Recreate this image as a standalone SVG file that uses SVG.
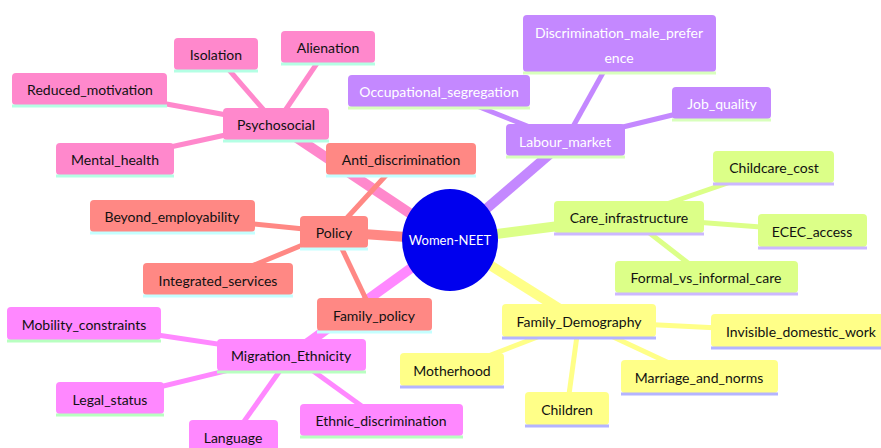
<svg xmlns="http://www.w3.org/2000/svg" width="881" height="448" viewBox="0 0 881 448">
  <style>
    text { font-family: Lato, "Liberation Sans", sans-serif; font-size: 14px; text-anchor: middle; dominant-baseline: central; fill: #111; }
    .lbl-w { fill: #ffffff; }
    .root-lbl { font-size: 13px; }
    .box { stroke: none; }
    .uline { stroke-width: 3; fill: none; }
    .e0 { stroke-width: 10; stroke-linecap: butt; fill: none; }
    .e1 { stroke-width: 5; stroke-linecap: butt; fill: none; }
    .s-psy .box { fill: #ff88cc; } .s-psy .uline { stroke: #b4ffe4; }
    .s-pol .box { fill: #ff8884; } .s-pol .uline { stroke: #c4ffff; }
    .s-lab .box { fill: #c488ff; } .s-lab .uline { stroke: #d8ffbc; }
    .s-care .box { fill: #dcff88; } .s-care .uline { stroke: #ccb8ff; }
    .s-fam .box { fill: #ffff88; } .s-fam .uline { stroke: #b4b4ff; }
    .s-mig .box { fill: #ff88ff; } .s-mig .uline { stroke: #b8ffc0; }
    .c-psy { stroke: #ff88cc; } .c-pol { stroke: #ff8884; } .c-lab { stroke: #c488ff; }
    .c-care { stroke: #dcff88; } .c-fam { stroke: #ffff88; } .c-mig { stroke: #ff88ff; }
  </style>

  <!-- connectors -->
  <g id="connectors">
    <!-- root to main branches -->
    <line class="e0 c-psy" x1="450" y1="240" x2="276" y2="124"/>
    <line class="e0 c-lab" x1="450" y1="240" x2="565" y2="141"/>
    <line class="e0 c-pol" x1="450" y1="240" x2="334" y2="232"/>
    <line class="e0 c-care" x1="450" y1="240" x2="629" y2="217"/>
    <line class="e0 c-fam" x1="450" y1="240" x2="579" y2="321"/>
    <line class="e0 c-mig" x1="450" y1="240" x2="291" y2="355"/>
    <!-- Psychosocial -->
    <line class="e1 c-psy" x1="276" y1="124" x2="216" y2="55"/>
    <line class="e1 c-psy" x1="276" y1="124" x2="328" y2="47"/>
    <line class="e1 c-psy" x1="276" y1="124" x2="90" y2="90"/>
    <line class="e1 c-psy" x1="276" y1="124" x2="115" y2="159"/>
    <!-- Policy -->
    <line class="e1 c-pol" x1="334" y1="232" x2="401" y2="159"/>
    <line class="e1 c-pol" x1="334" y1="232" x2="172" y2="216"/>
    <line class="e1 c-pol" x1="334" y1="232" x2="218" y2="280"/>
    <line class="e1 c-pol" x1="334" y1="232" x2="374" y2="316"/>
    <!-- Labour_market -->
    <line class="e1 c-lab" x1="565" y1="141" x2="439" y2="91"/>
    <line class="e1 c-lab" x1="565" y1="141" x2="619" y2="44"/>
    <line class="e1 c-lab" x1="565" y1="141" x2="722" y2="103"/>
    <!-- Care_infrastructure -->
    <line class="e1 c-care" x1="629" y1="217" x2="774" y2="167"/>
    <line class="e1 c-care" x1="629" y1="217" x2="812" y2="231"/>
    <line class="e1 c-care" x1="629" y1="217" x2="706" y2="277"/>
    <!-- Family_Demography -->
    <line class="e1 c-fam" x1="579" y1="321" x2="801" y2="332"/>
    <line class="e1 c-fam" x1="579" y1="321" x2="452" y2="370"/>
    <line class="e1 c-fam" x1="579" y1="321" x2="699" y2="377"/>
    <line class="e1 c-fam" x1="579" y1="321" x2="567" y2="409"/>
    <!-- Migration_Ethnicity -->
    <line class="e1 c-mig" x1="291" y1="355" x2="84" y2="324"/>
    <line class="e1 c-mig" x1="291" y1="355" x2="110" y2="399"/>
    <line class="e1 c-mig" x1="291" y1="355" x2="233" y2="437"/>
    <line class="e1 c-mig" x1="291" y1="355" x2="381" y2="420"/>
  </g>

  <!-- root -->
  <g id="root">
    <ellipse cx="450" cy="240" rx="48" ry="51" fill="#0000ee"/>
    <text x="450" y="240" class="lbl-w root-lbl">Women-NEET</text>
  </g>

  <!-- Psychosocial branch -->
  <g class="s-psy">
    <g id="psychosocial"><rect class="box" x="223" y="108" width="106" height="32" rx="4"/><line class="uline" x1="223" y1="141" x2="329" y2="141"/><text x="276" y="124">Psychosocial</text></g>
    <g id="isolation"><rect class="box" x="174" y="38" width="84" height="32" rx="4"/><line class="uline" x1="174" y1="71" x2="258" y2="71"/><text x="216" y="54">Isolation</text></g>
    <g id="alienation"><rect class="box" x="281" y="31" width="94" height="32" rx="4"/><line class="uline" x1="281" y1="64" x2="375" y2="64"/><text x="328" y="47">Alienation</text></g>
    <g id="reduced-motivation"><rect class="box" x="12" y="73" width="155" height="32" rx="4"/><line class="uline" x1="12" y1="106" x2="167" y2="106"/><text x="90" y="89">Reduced_motivation</text></g>
    <g id="mental-health"><rect class="box" x="56" y="143" width="118" height="32" rx="4"/><line class="uline" x1="56" y1="176" x2="174" y2="176"/><text x="115" y="159">Mental_health</text></g>
  </g>

  <!-- Policy branch -->
  <g class="s-pol">
    <g id="anti-discrimination"><rect class="box" x="326" y="143" width="150" height="32" rx="4"/><line class="uline" x1="326" y1="176" x2="476" y2="176"/><text x="401" y="159">Anti_discrimination</text></g>
    <g id="policy"><rect class="box" x="300" y="216" width="68" height="32" rx="4"/><line class="uline" x1="300" y1="249" x2="368" y2="249"/><text x="334" y="232">Policy</text></g>
    <g id="beyond-employability"><rect class="box" x="90" y="200" width="165" height="32" rx="4"/><line class="uline" x1="90" y1="233" x2="255" y2="233"/><text x="172" y="216">Beyond_employability</text></g>
    <g id="integrated-services"><rect class="box" x="143" y="263" width="150" height="32" rx="4"/><line class="uline" x1="143" y1="296" x2="293" y2="296"/><text x="218" y="280">Integrated_services</text></g>
    <g id="family-policy"><rect class="box" x="317" y="298" width="115" height="33" rx="4"/><line class="uline" x1="317" y1="332" x2="432" y2="332"/><text x="374" y="315">Family_policy</text></g>
  </g>

  <!-- Labour_market branch -->
  <g class="s-lab">
    <g id="discrimination-male-preference"><rect class="box" x="523" y="15" width="193" height="57" rx="4"/><line class="uline" x1="523" y1="73" x2="716" y2="73"/><text x="619" y="32" class="lbl-w">Discrimination_male_prefer</text><text x="619" y="57" class="lbl-w">ence</text></g>
    <g id="occupational-segregation"><rect class="box" x="348" y="75" width="182" height="32" rx="4"/><line class="uline" x1="348" y1="108" x2="530" y2="108"/><text x="439" y="91" class="lbl-w">Occupational_segregation</text></g>
    <g id="job-quality"><rect class="box" x="672" y="87" width="99" height="32" rx="4"/><line class="uline" x1="672" y1="120" x2="771" y2="120"/><text x="722" y="103" class="lbl-w">Job_quality</text></g>
    <g id="labour-market"><rect class="box" x="506" y="124" width="119" height="32" rx="4"/><line class="uline" x1="506" y1="157" x2="625" y2="157"/><text x="565" y="141" class="lbl-w">Labour_market</text></g>
  </g>

  <!-- Care_infrastructure branch -->
  <g class="s-care">
    <g id="childcare-cost"><rect class="box" x="713" y="151" width="121" height="32" rx="4"/><line class="uline" x1="713" y1="184" x2="834" y2="184"/><text x="774" y="167">Childcare_cost</text></g>
    <g id="care-infrastructure"><rect class="box" x="554" y="201" width="150" height="32" rx="4"/><line class="uline" x1="554" y1="234" x2="704" y2="234"/><text x="629" y="217">Care_infrastructure</text></g>
    <g id="ecec-access"><rect class="box" x="758" y="214" width="109" height="33" rx="4"/><line class="uline" x1="758" y1="248" x2="867" y2="248"/><text x="812" y="231">ECEC_access</text></g>
    <g id="formal-vs-informal-care"><rect class="box" x="615" y="261" width="183" height="32" rx="4"/><line class="uline" x1="615" y1="294" x2="798" y2="294"/><text x="706" y="277">Formal_vs_informal_care</text></g>
  </g>

  <!-- Family_Demography branch -->
  <g class="s-fam">
    <g id="family-demography"><rect class="box" x="502" y="304" width="154" height="33" rx="4"/><line class="uline" x1="502" y1="338" x2="656" y2="338"/><text x="579" y="321">Family_Demography</text></g>
    <g id="invisible-domestic-work"><rect class="box" x="711" y="314" width="180" height="33" rx="4"/><line class="uline" x1="711" y1="348" x2="891" y2="348"/><text x="801" y="331">Invisible_domestic_work</text></g>
    <g id="motherhood"><rect class="box" x="400" y="353" width="104" height="33" rx="4"/><line class="uline" x1="400" y1="387" x2="504" y2="387"/><text x="452" y="370">Motherhood</text></g>
    <g id="marriage-and-norms"><rect class="box" x="621" y="360" width="157" height="33" rx="4"/><line class="uline" x1="621" y1="394" x2="778" y2="394"/><text x="699" y="377">Marriage_and_norms</text></g>
    <g id="children"><rect class="box" x="525" y="392" width="84" height="33" rx="4"/><line class="uline" x1="525" y1="426" x2="609" y2="426"/><text x="567" y="409">Children</text></g>
  </g>

  <!-- Migration_Ethnicity branch -->
  <g class="s-mig">
    <g id="mobility-constraints"><rect class="box" x="7" y="307" width="154" height="33" rx="4"/><line class="uline" x1="7" y1="341" x2="161" y2="341"/><text x="84" y="324">Mobility_constraints</text></g>
    <g id="migration-ethnicity"><rect class="box" x="217" y="339" width="149" height="32" rx="4"/><line class="uline" x1="217" y1="372" x2="366" y2="372"/><text x="291" y="355">Migration_Ethnicity</text></g>
    <g id="legal-status"><rect class="box" x="56" y="382" width="108" height="32" rx="4"/><line class="uline" x1="56" y1="415" x2="164" y2="415"/><text x="110" y="399">Legal_status</text></g>
    <g id="language"><rect class="box" x="189" y="420" width="89" height="33" rx="4"/><line class="uline" x1="189" y1="454" x2="278" y2="454"/><text x="233" y="437">Language</text></g>
    <g id="ethnic-discrimination"><rect class="box" x="300" y="404" width="163" height="32" rx="4"/><line class="uline" x1="300" y1="437" x2="463" y2="437"/><text x="381" y="420">Ethnic_discrimination</text></g>
  </g>
</svg>
